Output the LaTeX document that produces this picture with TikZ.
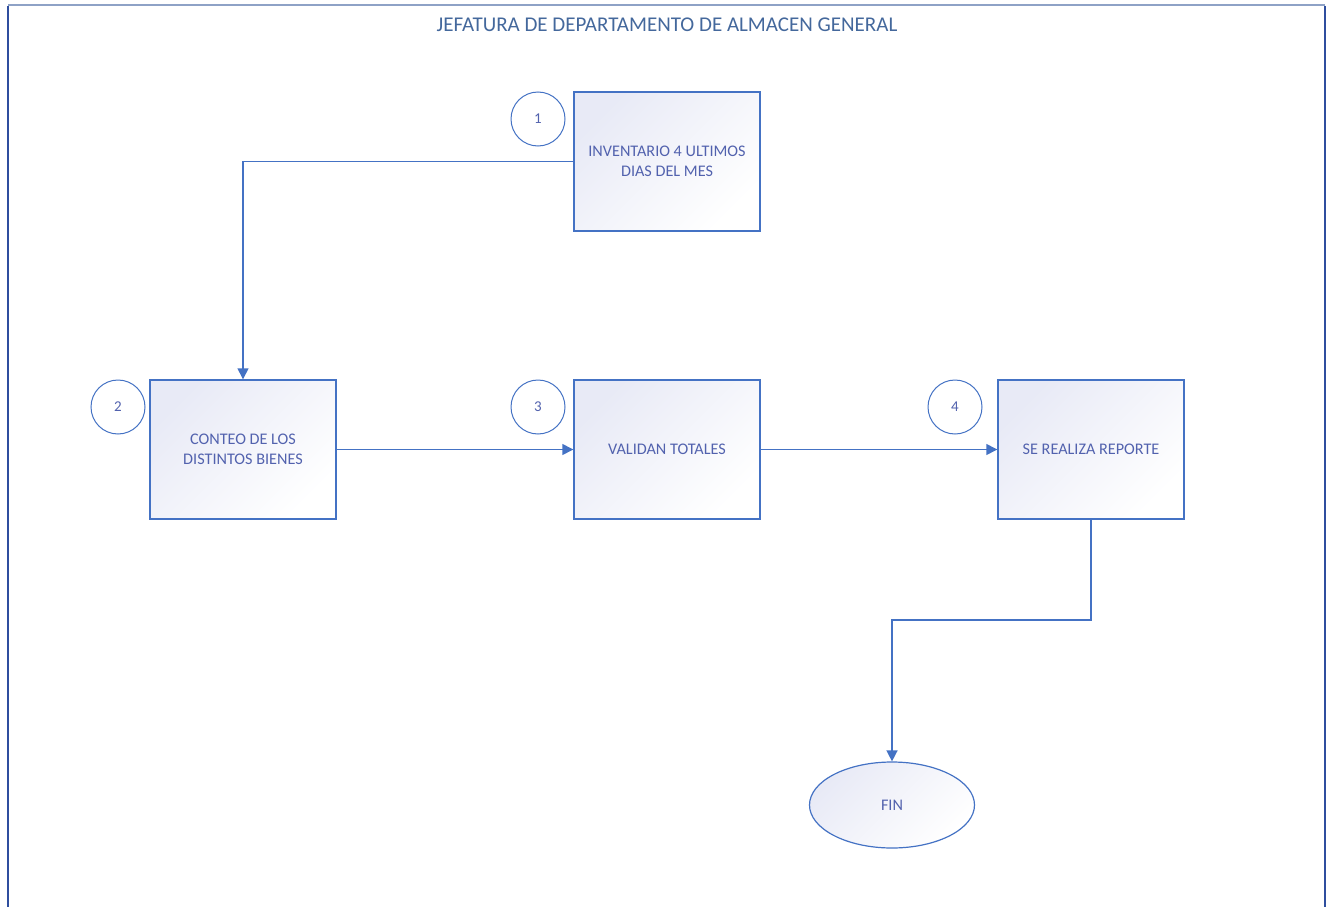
\documentclass[tikz,border=0pt]{standalone}
\usepackage{fontspec}
\setmainfont{Carlito}
\usetikzlibrary{arrows.meta,shapes.geometric}
\definecolor{linkblue}{HTML}{4472C4}
\definecolor{framedark}{HTML}{2F4E9E}
\definecolor{frametop}{HTML}{8EA2C6}
\definecolor{titleblue}{HTML}{44689C}
\definecolor{textblue}{HTML}{5262AE}
\definecolor{fillhi}{HTML}{E8EAF6}
\tikzset{
  stepbox/.style={draw=linkblue, line width=1.4pt, minimum width=186pt, minimum height=139pt,
    top color=fillhi, bottom color=white, shading angle=45, inner sep=0pt,
    align=center, text=textblue, font=\fontsize{16.2}{19.5}\selectfont},
  numcirc/.style={circle, draw=linkblue, line width=1pt, fill=white, minimum size=54pt,
    inner sep=0pt, text=textblue, font=\fontsize{15}{17}\selectfont},
  endoval/.style={ellipse, draw=linkblue, line width=1.2pt, minimum width=165pt, minimum height=86pt,
    top color=fillhi, bottom color=white, shading angle=45, inner sep=0pt,
    text=textblue, font=\fontsize{16.2}{19}\selectfont},
  flow/.style={draw=linkblue, line width=1.4pt, -{Triangle[length=11pt,width=11pt]}},
}
\begin{document}
\begin{tikzpicture}[x=1pt, y=-1pt]
\useasboundingbox (0,0) rectangle (1331,907);
% page frame, open at the bottom
\draw[frametop, line width=2.5pt] (8,5) -- (1325,5);
\draw[framedark, line width=1.6pt] (8,6) -- (8,907);
\draw[framedark, line width=1.6pt] (1325,6) -- (1325,907);
\node[text=titleblue, font=\fontsize{21}{24}\selectfont] (title) at (667,25) {JEFATURA DE DEPARTAMENTO DE ALMACEN GENERAL};

% process steps
\node[stepbox] (s1) at (667,161.5) {INVENTARIO 4 ULTIMOS\\DIAS DEL MES};
\node[stepbox] (s2) at (243,449.5) {CONTEO DE LOS\\DISTINTOS BIENES};
\node[stepbox] (s3) at (667,449.5) {VALIDAN TOTALES};
\node[stepbox] (s4) at (1091,449.5) {SE REALIZA REPORTE};
\node[endoval] (fin) at (892,805) {FIN};

% step numbers
\node[numcirc] (n1) at (538,119) {1};
\node[numcirc] (n2) at (118,407) {2};
\node[numcirc] (n3) at (538,407) {3};
\node[numcirc] (n4) at (955,407) {4};

% connectors
\coordinate (c1) at (243,161.5);
\coordinate (c2) at (1091,620);
\coordinate (c3) at (892,620);
\draw[flow] (s1.west) -- (c1) -- (s2.north);
\draw[flow] (s2.east) -- (s3.west);
\draw[flow] (s3.east) -- (s4.west);
\draw[flow] (s4.south) -- (c2) -- (c3) -- (fin.north);
\end{tikzpicture}
\end{document}
